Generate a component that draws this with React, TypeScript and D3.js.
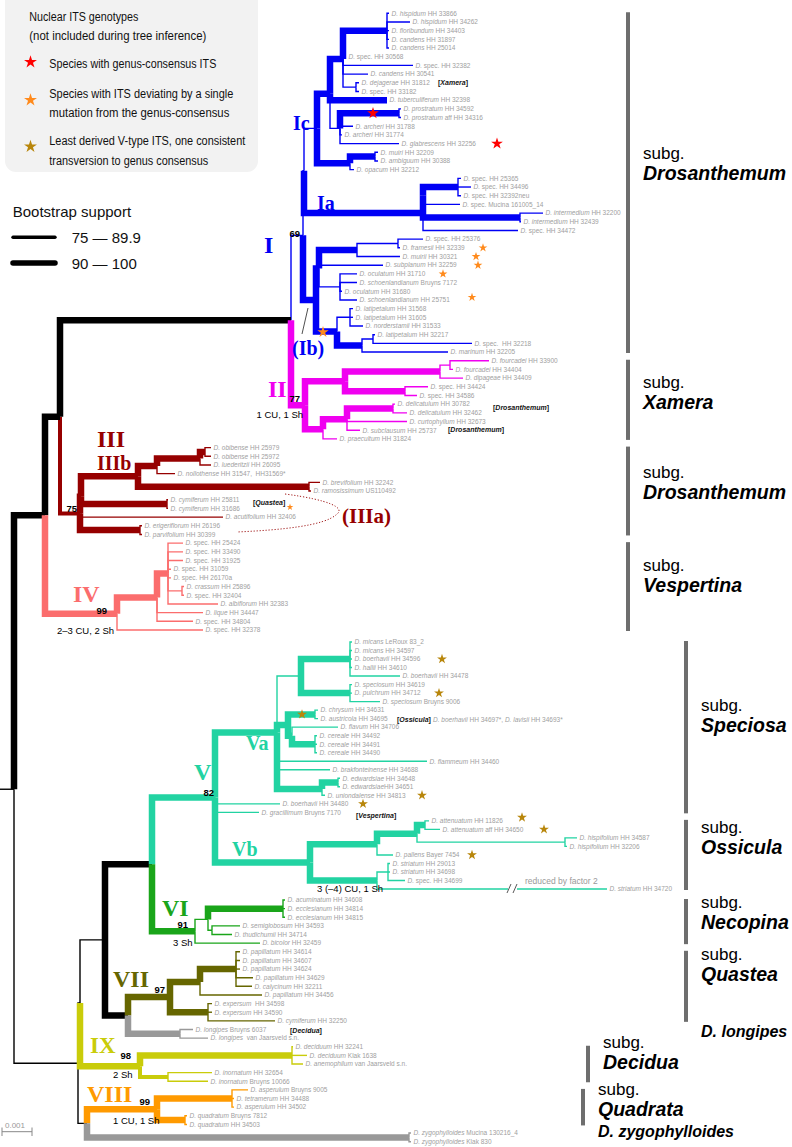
import React from "react";
import * as d3 from "d3";

// ---------------- DATA ----------------
const leafNames: string[] = [
  "D. hispidum HH 33866", "D. hispidum HH 34262", "D. floribundum HH 34403", "D. candens HH 31897",
  "D. candens HH 25014", "D. spec. HH 30568", "D. spec. HH 32382", "D. candens HH 30541",
  "D. dejagerae HH 31812", "D. spec. HH 33182", "D. tuberculiferum HH 32398", "D. prostratum HH 34592",
  "D. prostratum aff HH 34316", "D. archeri HH 31788", "D. archeri HH 31774", "D. glabrescens HH 32256",
  "D. muiri HH 32209", "D. ambiguum HH 30388", "D. opacum HH 32212",
  "D. spec. HH 25365", "D. spec. HH 34496", "D. spec. HH 32392neu", "D. spec. Mucina 161005_14",
  "D. intermedium HH 32200", "D. intermedium HH 32439", "D. spec. HH 34472",
  "D. spec. HH 25376", "D. framesii HH 32339", "D. muirii HH 30321", "D. subplanum HH 32259",
  "D. oculatum HH 31710", "D. schoenlandianum Bruyns 7172", "D. oculatum HH 31680", "D. schoenlandianum HH 25751",
  "D. latipetalum HH 31568", "D. latipetalum HH 31605", "D. norderstamii HH 31533", "D. latipetalum HH 32217",
  "D. spec.  HH 32218", "D. marinum HH 32205",
  "D. fourcadei HH 33900", "D. fourcadei HH 34404", "D. dipageae HH 34409", "D. spec. HH 34424",
  "D. spec. HH 34586", "D. delicatulum HH 30782", "D. delicatulum HH 32462", "D. curtophyllum HH 32673",
  "D. subclausum HH 25737", "D. praecultum HH 31824",
  "D. obibense HH 25979", "D. obibense HH 25972", "D. luederitzii HH 26095", "D. nollothense HH 31547,  HH31569*",
  "D. brevifolium HH 32242", "D. ramosissimum US110492", "D. cymiferum HH 25811", "D. cymiferum HH 31686",
  "D. acutifolium HH 32406", "D. erigeriflorum HH 26196", "D. parvifolium HH 30399",
  "D. spec. HH 25424", "D. spec. HH 33490", "D. spec. HH 31925", "D. spec. HH 31059", "D. spec. HH 26170a",
  "D. crassum HH 25896", "D. spec. HH 32404", "D. albiflorum HH 32383", "D. lique HH 34447",
  "D. spec. HH 34804", "D. spec. HH 32378",
  "D. micans LeRoux 83_2", "D. micans HH 34597", "D. boerhavii HH 34596", "D. hallii HH 34610",
  "D. boerhavii HH 34478", "D. speciosum HH 34619", "D. pulchrum HH 34712", "D. speciosum Bruyns 9006",
  "D. chrysum HH 34631", "D. austricola HH 34695", "D. flavum HH 34706", "D. cereale HH 34492",
  "D. cereale HH 34491", "D. cereale HH 34490", "D. flammeum HH 34460", "D. brakfonteinense HH 34688",
  "D. edwardsiae HH 34648", "D. edwardsiaeHH 34651", "D. uniondalense HH 34813", "D. boerhavii HH 34480",
  "D. gracillimum Bruyns 7170",
  "D. attenuatum HH 11826", "D. attenuatum aff HH 34650", "D. hispifolium HH 34587", "D. hispifolium HH 32206",
  "D. pallens Bayer 7454", "D. striatum HH 29013", "D. striatum HH 34698", "D. spec. HH 34699", "D. striatum HH 34720",
  "D. acuminatum HH 34608", "D. ecclesianum HH 34814", "D. ecclesianum HH 34815", "D. semiglobosum HH 34593",
  "D. thudichumii HH 34714", "D. bicolor HH 32459",
  "D. papillatum HH 34614", "D. papillatum HH 34607", "D. papillatum HH 34624", "D. papillatum HH 34629",
  "D. calycinum HH 32211", "D. papillatum HH 34456", "D. expersum  HH 34598", "D. expersum HH 34590",
  "D. cymiferum HH 32250",
  "D. longipes Bruyns 6037", "D. longipes  van Jaarsveld s.n.",
  "D. deciduum HH 32241", "D. deciduum Klak 1638", "D. anemophilum van Jaarsveld s.n.",
  "D. inornatum HH 32654", "D. inornatum Bruyns 10066",
  "D. asperulum Bruyns 9005", "D. tetramerum HH 34488", "D. asperulum HH 34502",
  "D. quadratum Bruyns 7812", "D. quadratum HH 34503",
  "D. zygophylloides Mucina 130216_4", "D. zygophylloides Klak 830",
];

// Topology (Newick-like). Tips = index into leafNames, ":d" = distance of node from the
// left baseline (30 units = 0.001 subst./site), "#k" bootstrap class (0 <75, 1 75-89.9, 2 90-100).
const cladeIc = "((((0:389,1:410,2:389,3:389,4:389):387#2,5:346,6:413,7:368,(8:359,9:359):356):343#2,10:387#2,((11:401,12:401):399#2,13:353,14:342,15:399):340):330#2,((16:378,17:378):375#2,18:354):350#2)Ic:317";
const cladeIa = "(((19:461,20:471,21:461):458#2,22:460):423#2,(23:543,24:521):520#2,25:518)Ia:423#2";
const cladeIb = "((((26:423,27:400):398,28:400):357#2,29:383,(30:357,31:357,32:342,33:357):340):319#2,((34:353,35:353,36:363):350,((37:375,38:472):373,39:448):362#2):337#2)Ib:316#2";
const cladeII = "((((40:489,41:453):450,42:463):440#2,(43:428,44:417):405#2):345#2,(((45:395,46:407):393#2,47:407,48:360):347#2,49:337):323#2)II:305#2";
const cladeIII = "((((((50:211,51:211):205#2,52:211):200#2,53:175):157#2,(54:320,55:311):309#2):138#2,(56:168,57:168):167#2,58:223):81#2,(59:142,60:142):140#2)III:80#1";
const cladeIV = "(((61:183,62:183,63:183,64:171,65:171,(66:184,67:184):182,68:218):168#2,69:203,70:193):157#2,71:203)IV:117#2";
const cladeVa1 = "((72:352,73:352,74:352,75:352,76:400):350#2,(77:352,78:352,79:380):350#2):301";
const cladeVa3 = "((80:318,81:318):315#2,(82:338,(83:317,84:317,85:317):315#2):292#2):288#2";
const cladeVaEU = "((88:340,89:340):338#2,90:325):322#2";
const cladeVa = `(${cladeVa1},${cladeVa3},86:427,87:330,${cladeVaEU})Va:277#2`;
const cladeVb = "((((93:429,94:440):425#2,(95:577,96:567):565):417#2,97:393):377#2,((98:390,99:390,100:405):388,101:607):377#2)Vb:310#2";
const cladeVI = "(((102:285,103:285,104:285):283#2,(105:240,106:232):212):208,107:260)VI:195#2";
const cladeVII = "(((108:240,109:240,110:240,111:253,112:252):236#2,113:262):200#2,(114:212,115:212,116:275):208#2)VII:170#2";
const cladeLongipes = "(117:193,118:208)LG:180#2";
const cladeIX = "((119:293,120:307,121:303):292#2,(122:212,123:208):168#1)IX:140#2";
const cladeVIII = "((124:248,125:234,126:234):232#2,(127:187,128:187):185#2)VIII:157#2";
const cladeZygo = "(129:411,130:411)ZY:409#2";

const cladeV = `(${cladeVa},91:280,92:259,${cladeVb})V:215#2`;
const upperGroup = `(((((${cladeIc},${cladeIa}):304,${cladeIb})I:303,${cladeII}):291#2,${cladeIII}):60#2,${cladeIV}):45#2`;
const lowerGroup = `((((${cladeV},${cladeVI}):152#2,(${cladeVII},${cladeLongipes}):128#2):105,${cladeIX}):80,(${cladeVIII},${cladeZygo}):87):78`;
const treeNewick = `(${upperGroup},${lowerGroup}):14`;

// bootstrap values printed at clade stems
const bootstrapClades = ["I", "II", "III", "IV", "V", "VI", "VII", "IX", "VIII"];
const bootstrapValues = [69, 77, 75, 99, 82, 91, 97, 98, 99];

// ITS stars: [leaf row, distance]
const starsRed = [[11.5, 373], [15, 497]];
const starsOrange = [[27, 483], [28, 476], [29, 478], [30, 443], [32.7, 472]];
const starsOrangeBig = [[36.7, 323]];
const starsOrangeSmall = [[56.85, 290]];
const starsBrown = [[74, 442], [78, 439], [80.5, 302], [90, 422], [91, 363], [92.6, 522], [94, 544], [97, 472]];

// subgenus bars: first / last leaf row, label, row of label baseline
const subgNames = ["Drosanthemum", "Xamera", "Drosanthemum", "Vespertina", "Speciosa", "Ossicula", "Necopina", "Quastea", "D. longipes", "Decidua", "Quadrata", "D. zygophylloides"];
const subgFirst = [0, 40, 50, 61, 72, 93, 102, 108, 117, 119, 124, 129];
const subgLast = [39, 49, 60, 71, 92, 101, 107, 116, 118, 123, 128, 130];
const subgLabelRow = [19.2, 45.6, 55.9, 66.6, 82.6, 96.9, 105.4, 111.4, 117.9, 121.6, 127.0, 129.5];
const subgHasBar = [1, 1, 1, 1, 1, 1, 1, 1, 0, 1, 1, 0];

const legendITS = [
  ["Nuclear ITS genotypes", "(not included during tree inference)"],
  ["Species with genus-consensus ITS"],
  ["Species with ITS deviating by a single", "mutation from the genus-consensus"],
  ["Least derived V-type ITS, one consistent", "transversion to genus consensus"],
];
const legendSupport = ["75 — 89.9", "90 — 100"];
const scaleBarValue = 0.001;
const scaleBarUnits = 30;

// ---------------- PARSER ----------------
type TNode = { children: TNode[]; name: string; leaf: number; dist: number; sup: number };
function parseNewick(str: string): TNode {
  const s = str.replace(/\s+/g, "");
  let i = 0;
  function node(): TNode {
    const n: TNode = { children: [], name: "", leaf: -1, dist: 0, sup: 0 };
    if (s[i] === "(") {
      i++;
      n.children.push(node());
      while (s[i] === ",") { i++; n.children.push(node()); }
      i++;
    }
    let lab = "";
    while (i < s.length && !",()".includes(s[i])) lab += s[i++];
    const m = lab.match(/^([^:#]*)(?::([\d.]+))?(?:#(\d))?$/) || ["", "", "0", "0"];
    if (n.children.length === 0) n.leaf = +m[1]; else n.name = m[1];
    n.dist = m[2] ? +m[2] : 0;
    n.sup = m[3] ? +m[3] : 0;
    return n;
  }
  return node();
}

const COLORS: Record<string, string> = {
  I: "#0000f5", II: "#f000f0", III: "#960000", IV: "#fb6d6d", V: "#22d3a2", VI: "#1aa51a",
  VII: "#666600", LG: "#999999", IX: "#c9cc0a", VIII: "#ff9a00", ZY: "#999999",
};
const WIDTHS = [1.4, 4, 6.5];
const LEAF_GRAY = "#a0a0a0";

function starD(r: number) {
  return d3.symbol().type(d3.symbolStar).size((r * r) / 0.8908130915292852)() as string;
}

function LeafText({ name, x, y }: { name: string; x: number; y: number }) {
  let it = name, rest = "";
  if (/^D\. spec\./.test(name)) { it = "D."; rest = name.slice(2); }
  else {
    const m = name.match(/^(D\. [a-z]+)(.*)$/);
    if (m) { it = m[1]; rest = m[2]; }
  }
  return (
    <text x={x} y={y} fontSize={6.5} fill={LEAF_GRAY} fontFamily="'Liberation Sans', Arial, sans-serif">
      <tspan fontStyle="italic">{it}</tspan>{rest.replace(/ /g, "\u00a0")}
    </text>
  );
}

export default function App() {
  const W = 792, H = 1147;
  const x = d3.scaleLinear().domain([0, 30]).range([0, 30]);
  const yRow = d3.scaleLinear().domain([0, 71, 72, 101, 102, 130]).range([13.3, 630, 642, 889, 900, 1141.7]);

  const root: any = d3.hierarchy(parseNewick(treeNewick), (d: TNode) => (d.children.length ? d.children : null));
  root.eachAfter((n: any) => {
    n.px = x(n.data.dist);
    if (!n.children) n.py = yRow(n.data.leaf);
    else n.py = (n.children[0].py + n.children[n.children.length - 1].py) / 2;
  });
  root.eachBefore((n: any) => {
    n.color = COLORS[n.data.name] || (n.parent ? n.parent.color : "#000");
  });
  const byName: Record<string, any> = {};
  root.each((n: any) => { if (n.data.name) byName[n.data.name] = n; });

  const branches = root.descendants().filter((n: any) => n.parent).sort((a: any, b: any) => a.data.sup - b.data.sup);
  const leaves = root.leaves();

  const sans = "'Liberation Sans', Arial, sans-serif";
  const narrow = "'Liberation Sans Narrow', 'Liberation Sans', Arial, sans-serif";
  const serif = "'Liberation Serif', 'Times New Roman', serif";

  const cladeLabels = [
    { t: "Ic", x: 293, y: 130, c: "I", s: 20 },
    { t: "Ia", x: 317, y: 210, c: "I", s: 20 },
    { t: "I", x: 264, y: 253, c: "I", s: 24 },
    { t: "(Ib)", x: 292, y: 355, c: "I", s: 20 },
    { t: "II", x: 268, y: 397, c: "II", s: 24 },
    { t: "III", x: 97, y: 447, c: "III", s: 24 },
    { t: "IIIb", x: 97, y: 470, c: "III", s: 20 },
    { t: "(IIIa)", x: 342, y: 523, c: "III", s: 21 },
    { t: "IV", x: 73, y: 602, c: "IV", s: 24 },
    { t: "V", x: 194, y: 780, c: "V", s: 24 },
    { t: "Va", x: 246, y: 750, c: "V", s: 20 },
    { t: "Vb", x: 232, y: 856, c: "V", s: 20 },
    { t: "VI", x: 162, y: 916, c: "VI", s: 24 },
    { t: "VII", x: 113, y: 987, c: "VII", s: 24 },
    { t: "IX", x: 90, y: 1053, c: "IX", s: 23 },
    { t: "VIII", x: 87, y: 1102, c: "VIII", s: 24 },
  ];
  // offsets of the bootstrap numbers from their nodes
  const bsDx = [-3, -5, -3, -10, -1, -7, -5, -9, -7];
  const bsDy = [2, -3, -1.5, 0, -1.5, -3, -4, -7, -4];
  const charNotes = [
    { t: "1 CU, 1 Sh", x: 303, y: 418, a: "end" },
    { t: "2–3 CU, 2 Sh", x: 57, y: 634, a: "start" },
    { t: "3 (–4) CU, 1 Sh", x: 317, y: 892, a: "start" },
    { t: "3 Sh", x: 173, y: 946, a: "start" },
    { t: "2 Sh", x: 113, y: 1078, a: "start" },
    { t: "1 CU, 1 Sh", x: 113, y: 1124, a: "start" },
  ];
  const brackets = [
    { t: "Xamera", x: 438, y: 85 },
    { t: "Drosanthemum", x: 493, y: 410 },
    { t: "Drosanthemum", x: 448, y: 432 },
    { t: "Quastea", x: 253, y: 505 },
    { t: "Ossicula", x: 397, y: 722 },
    { t: "Vespertina", x: 356, y: 818 },
    { t: "Decidua", x: 290, y: 1033 },
  ];
  const subgBarX = [628, 628, 628, 628, 686, 686, 686, 686, 686, 588, 583, 583];
  const legendLineX = [29.3, 49.3, 49.3, 49.3];
  const legendLineY = [[20.5, 39.5], [68], [98, 117], [145, 165]];
  const legendLineW = [[109, 177], [167], [184, 180], [196, 159]];
  const legendStar = [null, ["#ff0000", 62], ["#ff8a1c", 100], ["#b8860b", 146.5]] as any[];

  const striatumY = yRow(101);

  return (
    <svg width={W} height={H} style={{ position: "absolute", left: 0, top: 0, background: "#fff" }}>
      {/* legend */}
      <rect x={5} y={-10} width={253} height={182} rx={11} fill="#f2f2f2" />
      {legendITS.map((lines, i) => (
        <g key={i}>
          {lines.map((ln, j) => (
            <text key={j} x={legendLineX[i]} y={legendLineY[i][j]} fontSize={12.5} fontFamily={narrow}
              textLength={legendLineW[i][j]} lengthAdjust="spacingAndGlyphs" fill="#111">{ln}</text>
          ))}
          {legendStar[i] && <path d={starD(6.8)} transform={`translate(30.5,${legendStar[i][1]})`} fill={legendStar[i][0]} />}
        </g>
      ))}
      <text x={12.7} y={217} fontSize={15} fontFamily={sans} fill="#111">Bootstrap support</text>
      {legendSupport.map((t, i) => (
        <g key={t}>
          <line x1={13} x2={55} y1={237.3 + i * 25.7} y2={237.3 + i * 25.7} stroke="#000" strokeWidth={WIDTHS[i + 1] * 0.85} strokeLinecap="round" />
          <text x={71.7} y={243 + i * 26} fontSize={15} fontFamily={sans} fill="#111">{t}</text>
        </g>
      ))}

      {/* root stem */}
      <line x1={0} x2={root.px} y1={root.py} y2={root.py} stroke="#000" strokeWidth={WIDTHS[0]} />

      {/* branches */}
      {branches.map((n: any, i: number) => (
        <path key={i} d={`M${n.parent.px},${n.parent.py}V${n.py}H${n.px}`} fill="none"
          stroke={n.color} strokeWidth={WIDTHS[n.data.sup]} strokeLinejoin="miter" />
      ))}

      {/* break on long branch */}
      <rect x={508} y={striatumY - 4} width={9} height={8} fill="#fff" />
      <line x1={507} y1={striatumY + 4} x2={511} y2={striatumY - 5} stroke="#444" strokeWidth={0.9} />
      <line x1={513} y1={striatumY + 4} x2={517} y2={striatumY - 5} stroke="#444" strokeWidth={0.9} />
      <text x={525} y={884} fontSize={8.5} fontFamily={sans} fill="#999">reduced by factor 2</text>

      {/* leaf labels */}
      {leaves.map((n: any) => (
        <LeafText key={n.data.leaf} name={leafNames[n.data.leaf]} x={n.px + 2.5} y={n.py + 2.3} />
      ))}
      <text x={433} y={722} fontSize={6.5} fill={LEAF_GRAY} fontFamily={sans}>
        <tspan fontStyle="italic">D. boerhavii</tspan> HH 34697*, <tspan fontStyle="italic">D. lavisii</tspan> HH 34693*
      </text>

      {/* bracket annotations */}
      {brackets.map((b, i) => (
        <text key={i} x={b.x} y={b.y} fontSize={7} fontWeight="bold" fontFamily={sans} fill="#111">
          [<tspan fontStyle="italic">{b.t}</tspan>]
        </text>
      ))}

      {/* stars */}
      {starsRed.map(([r, d], i) => <path key={"r" + i} d={starD(6.2)} transform={`translate(${x(d)},${yRow(r)})`} fill="#ff0000" />)}
      {starsOrange.map(([r, d], i) => <path key={"o" + i} d={starD(4.6)} transform={`translate(${x(d)},${yRow(r)})`} fill="#ff8a1c" />)}
      {starsOrangeBig.map(([r, d], i) => <path key={"ob" + i} d={starD(6)} transform={`translate(${x(d)},${yRow(r)})`} fill="#ff8a1c" />)}
      {starsOrangeSmall.map(([r, d], i) => <path key={"os" + i} d={starD(3.5)} transform={`translate(${x(d)},${yRow(r)})`} fill="#ff8a1c" />)}
      {starsBrown.map(([r, d], i) => <path key={"b" + i} d={starD(5.2)} transform={`translate(${x(d)},${yRow(r)})`} fill="#b8860b" />)}

      {/* IIIa outline and Ib pointer */}
      <path d="M285,494 C330,500 345,508 337,514 C325,526 280,530 237,532" fill="none" stroke="#960000" strokeWidth={0.9} strokeDasharray="1.2,1.8" />
      <line x1={302} y1={334} x2={308} y2={308} stroke="#222" strokeWidth={0.8} />

      {/* clade labels */}
      {cladeLabels.map((l, i) => (
        <text key={i} x={l.x} y={l.y} fontSize={l.s} fontWeight="bold" fontFamily={serif} fill={COLORS[l.c]}>{l.t}</text>
      ))}
      {bootstrapClades.map((c, i) => {
        const n = byName[c];
        return (
          <text key={c} x={n.px + bsDx[i]} y={n.py + bsDy[i]} fontSize={9.5} fontWeight="bold" fontFamily={sans} textAnchor="end" fill="#000">
            {bootstrapValues[i]}
          </text>
        );
      })}
      {charNotes.map((c, i) => (
        <text key={i} x={c.x} y={c.y} fontSize={9.5} fontFamily={narrow} textAnchor={c.a as any} fill="#000">{c.t}</text>
      ))}

      {/* subgenus bars */}
      {subgNames.map((nm, i) => {
        const bx = subgBarX[i];
        const ly = yRow(subgLabelRow[i]);
        const italicOnly = !subgHasBar[i];
        return (
          <g key={i}>
            {subgHasBar[i] ? (
              <line x1={bx} x2={bx} y1={yRow(subgFirst[i]) - 1} y2={yRow(subgLast[i]) + 1} stroke="#6e6e6e" strokeWidth={4} />
            ) : null}
            {!italicOnly && <text x={bx + 15} y={ly - 21} fontSize={17} fontFamily={sans} fill="#000">subg.</text>}
            <text x={bx + 15} y={ly} fontSize={italicOnly ? 16 : 19.5} fontWeight="bold" fontStyle="italic" fontFamily={sans} fill="#000">{nm}</text>
          </g>
        );
      })}

      {/* scale bar */}
      <line x1={2} x2={2 + x(scaleBarUnits)} y1={1131.7} y2={1131.7} stroke="#888" strokeWidth={1} />
      <line x1={2 + x(scaleBarUnits)} x2={2 + x(scaleBarUnits)} y1={1127.5} y2={1136} stroke="#888" strokeWidth={1} />
      <line x1={2} x2={2} y1={1127.5} y2={1136} stroke="#888" strokeWidth={1} />
      <text x={5} y={1128} fontSize={8} fontFamily={sans} fill="#999">{scaleBarValue.toFixed(3)}</text>
    </svg>
  );
}
